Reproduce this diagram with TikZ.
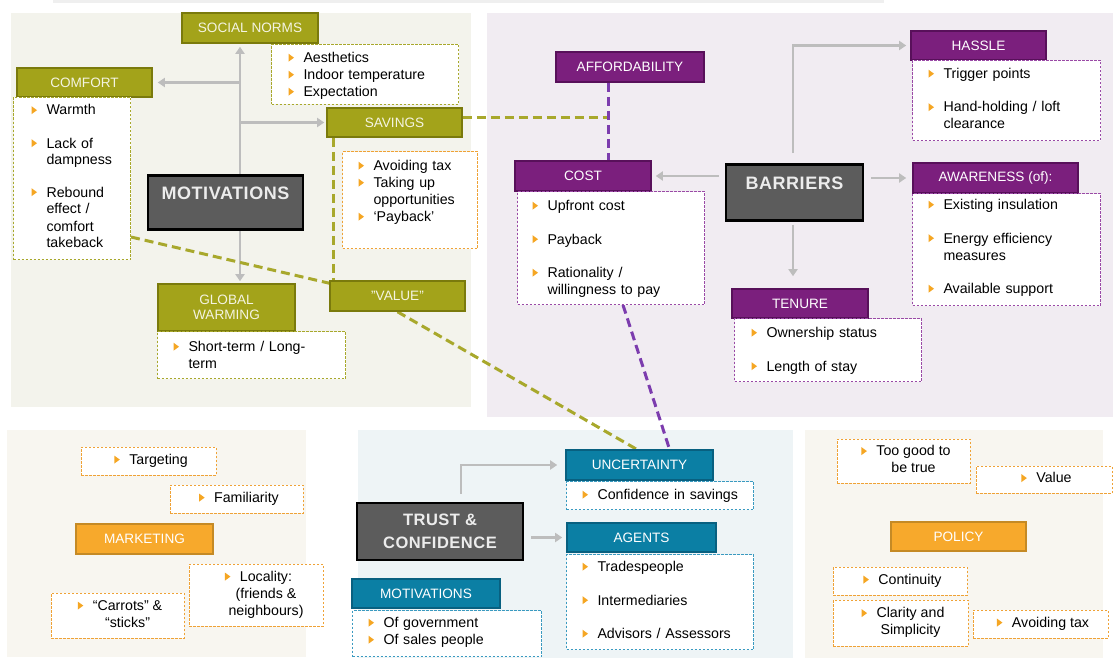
\documentclass[tikz,border=0pt]{standalone}
\usepackage{fontspec}
\setmainfont{Liberation Sans}
\newfontfamily\dgDarkFam[LetterSpace=3]{Liberation Sans}
\usetikzlibrary{arrows.meta,calc}
\setlength{\parindent}{0pt}
\definecolor{olv}{HTML}{A3A31A}
\definecolor{olvd}{HTML}{7A7A0C}
\definecolor{olvt}{HTML}{F4F4E2}
\definecolor{olvl}{HTML}{A8A82C}
\definecolor{prp}{HTML}{7B1F7D}
\definecolor{prpd}{HTML}{58105A}
\definecolor{prpl}{HTML}{9A4AA6}
\definecolor{prpc}{HTML}{7C3CAE}
\definecolor{tel}{HTML}{0B7FA4}
\definecolor{teld}{HTML}{086080}
\definecolor{tell}{HTML}{3A9AC0}
\definecolor{orn}{HTML}{F7A92C}
\definecolor{ornd}{HTML}{C58A25}
\definecolor{ornl}{HTML}{EFA236}
\definecolor{drk}{HTML}{5C5C5C}
\definecolor{drkt}{HTML}{ECECEC}
\definecolor{gry}{HTML}{BDBDBD}
\definecolor{bulc}{HTML}{F5A623}
\definecolor{pmot}{HTML}{F3F3EC}
\definecolor{pbar}{HTML}{F1ECF2}
\definecolor{pmkt}{HTML}{F8F6F0}
\definecolor{ptru}{HTML}{EEF4F6}
\definecolor{topl}{HTML}{EFEFEF}
\newcommand\dgLF{\fontsize{14.2}{17}\selectfont}
\newcommand\dgHF{\fontsize{13.6}{15}\selectfont}
\newcommand\dgBul{\tikz[x=1pt,y=1pt,baseline=0pt]\fill[bulc](0,0.8)--(0,8.8)--(5.5,4.8)--cycle;}
\newcommand\dgLi[1]{\hangindent=15pt\hangafter=1\makebox[15pt][l]{\dgBul}#1\par}
\newcommand\dgGap{\vspace{16.5pt}}
\newcommand\dgHB{\llap{\dgBul\hspace{9.5pt}}}
\newcommand\dgC[1]{\hspace*{20pt}\begin{tabular}{@{}c@{}}#1\end{tabular}}
\pgfdeclarelayer{bg}
\pgfdeclarelayer{conn}
\pgfsetlayers{bg,conn,main}
\begin{document}
\begin{tikzpicture}[x=1pt,y=-1pt,
  hdr/.style={draw, line width=1.6pt, inner sep=0pt, align=center, font=\dgHF, minimum height=29pt},
  olh/.style={hdr, fill=olv, draw=olvd, text=olvt},
  prh/.style={hdr, fill=prp, draw=prpd, text=white},
  teh/.style={hdr, fill=tel, draw=teld, text=white},
  orh/.style={hdr, fill=orn, draw=ornd, text=white},
  lst/.style={anchor=north west, fill=white, line width=1pt, dash pattern=on 2.5pt off 1.5pt, inner ysep=0pt, align=left, font=\dgLF},
  obox/.style={draw=ornl, fill=white, line width=1pt, dash pattern=on 2.5pt off 1.5pt, inner sep=0pt, font=\dgLF},
  dark/.style={draw=black, fill=drk, line width=2.5pt, text=drkt, inner sep=0pt, font=\dgDarkFam\bfseries\fontsize{18}{22}\selectfont},
  garrow/.style={draw=gry, line width=2.6pt, -{Triangle[length=7pt,width=9pt]}},
  odash/.style={draw=olvl, line width=3pt, dash pattern=on 9pt off 5pt},
  pdash/.style={draw=prpc, line width=3pt, dash pattern=on 9pt off 5pt}]
\useasboundingbox (0,0) rectangle (1113,658);
\begin{pgfonlayer}{bg}
\fill[white] (0,0) rectangle (1113,658);
\draw[topl, line width=3pt] (53,2) -- (884,2);
\fill[pmot] (11,13) rectangle (471,407);
\fill[pbar] (487,13) rectangle (1113,417);
\fill[pmkt] (7,430) rectangle (306,657);
\fill[ptru] (358,430) rectangle (793,658);
\fill[pmkt] (805,430) rectangle (1103,658);
\end{pgfonlayer}

% ---------- MOTIVATIONS ----------
\node[dark, anchor=north, minimum width=155pt, text height=24.5pt, text depth=29.5pt] (motiv) at (225.5,174) {MOTIVATIONS};
\node[olh, minimum width=136pt, minimum height=30pt] (socnorms) at (250,28) {SOCIAL NORMS};
\node[olh, minimum width=135pt] (comfort) at (84.5,82.5) {COMFORT};
\node[olh, minimum width=135pt] (savings) at (394.5,122.5) {SAVINGS};
\node[olh, minimum width=137pt, minimum height=47pt] (gw) at (226.5,307.5) {GLOBAL\\WARMING};
\node[olh, minimum width=135pt, minimum height=30pt] (value) at (397.5,296) {"VALUE"};
\node[lst, draw=olvl, inner xsep=17pt, text width=153pt, text height=18pt, text depth=42pt] (snlist) at (271,44)
  {\dgLi{Aesthetics}\dgLi{\mbox{Indoor temperature}}\dgLi{Expectation}};
\node[lst, draw=olvl, inner xsep=18pt, text width=81pt, text height=17.5pt, text depth=144.5pt] (comflist) at (13,97)
  {\dgLi{Warmth}\vspace{16pt}\dgLi{\mbox{Lack of}\newline dampness}\vspace{15pt}\dgLi{Rebound\newline \mbox{effect /}\newline comfort\newline takeback}};
\node[lst, draw=ornl, inner xsep=16pt, text width=103pt, text height=19pt, text depth=78pt] (savlist) at (342,151)
  {\dgLi{\mbox{Avoiding tax}}\dgLi{\mbox{Taking up}\newline opportunities}\dgLi{`Payback'}};
\node[lst, draw=olvl, inner xsep=16pt, text width=156pt, text height=20pt, text depth=27pt] (gwlist) at (157,331)
  {\dgLi{\mbox{Short-term / Long-}\newline term}};

% ---------- BARRIERS ----------
\node[dark, anchor=north, minimum width=137pt, text height=25.7pt, text depth=30.3pt] (barriers) at (794.5,163) {BARRIERS};
\node[prh, minimum width=148pt, minimum height=30pt] (afford) at (630,67) {AFFORDABILITY};
\node[prh, minimum width=136pt, minimum height=30pt] (cost) at (583,176) {COST};
\node[prh, minimum width=135pt] (hassle) at (978.5,45.5) {HASSLE};
\node[prh, minimum width=165pt, minimum height=30pt] (aware) at (995.5,178) {AWARENESS (of):};
\node[prh, minimum width=136pt] (tenure) at (800,303.5) {TENURE};
\node[lst, draw=prpl, inner xsep=15pt, text width=157pt, text height=19pt, text depth=94pt] (costlist) at (517,191)
  {\dgLi{\mbox{Upfront cost}}\dgGap\dgLi{Payback}\dgGap\dgLi{\mbox{Rationality /}\newline \mbox{willingness to pay}}};
\node[lst, draw=prpl, inner xsep=16pt, text width=156pt, text height=18pt, text depth=62pt] (hasslelist) at (912,60)
  {\dgLi{\mbox{Trigger points}}\dgGap\dgLi{\mbox{Hand-holding / loft}\newline clearance}};
\node[lst, draw=prpl, inner xsep=16pt, text width=156pt, text height=16pt, text depth=96pt] (awarelist) at (912,193)
  {\dgLi{\mbox{Existing insulation}}\dgGap\dgLi{\mbox{Energy efficiency}\newline measures}\dgGap\dgLi{\mbox{Available support}}};
\node[lst, draw=prpl, inner xsep=17pt, text width=153pt, text height=19pt, text depth=44pt] (tenurelist) at (734,318)
  {\dgLi{\mbox{Ownership status}}\dgGap\dgLi{\mbox{Length of stay}}};

% ---------- TRUST ----------
\node[dark, minimum width=166pt, minimum height=57pt, align=center, font=\dgDarkFam\bfseries\fontsize{16.5}{23}\selectfont] (trust) at (440,531.5) {TRUST \&\\CONFIDENCE};
\node[teh, minimum width=147pt, minimum height=30pt] (uncert) at (639.5,465) {UNCERTAINTY};
\node[teh, minimum width=149pt] (agents) at (641.5,537.5) {AGENTS};
\node[teh, minimum width=148pt] (motivb) at (426,593.5) {MOTIVATIONS};
\node[lst, draw=tell, inner xsep=16pt, text width=155pt, text height=18pt, text depth=10pt] (unclist) at (566,481)
  {\dgLi{\mbox{Confidence in savings}}};
\node[lst, draw=tell, inner xsep=16pt, text width=155pt, text height=17pt, text depth=78pt] (agentslist) at (566,554)
  {\dgLi{Tradespeople}\dgGap\dgLi{Intermediaries}\dgGap\dgLi{\mbox{Advisors / Assessors}}};
\node[lst, draw=tell, inner xsep=16pt, text width=157pt, text height=17pt, text depth=29pt] (motivblist) at (352,610)
  {\dgLi{\mbox{Of government}}\dgLi{\mbox{Of sales people}}};

% ---------- MARKETING ----------
\node[orh, minimum width=137pt, minimum height=30pt] (marketing) at (144.5,539) {MARKETING};
\node[obox, minimum width=135pt, minimum height=28pt] (targeting) at (148.5,461) {\dgC{\dgHB Targeting}};
\node[obox, minimum width=133pt, minimum height=28pt] (familiarity) at (236.5,499) {\dgC{\dgHB Familiarity}};
\node[obox, minimum width=133pt, minimum height=45pt] (carrots) at (117.5,615.5) {\dgC{\dgHB ``Carrots'' \&\\``sticks''}};
\node[obox, minimum width=134pt, minimum height=62pt] (locality) at (256,595) {\dgC{\dgHB Locality:\\(friends \&\\neighbours)}};

% ---------- POLICY ----------
\node[orh, minimum width=135pt] (policy) at (958.5,536.5) {POLICY};
\node[obox, minimum width=133pt, minimum height=44pt] (toogood) at (903.5,461) {\dgC{\dgHB Too good to\\be true}};
\node[obox, minimum width=136pt, minimum height=27pt] (valuep) at (1044,479.5) {\dgC{\dgHB Value}};
\node[obox, minimum width=134pt, minimum height=28pt] (continuity) at (900,581) {\dgC{\dgHB Continuity}};
\node[obox, minimum width=135pt, minimum height=46pt] (clarity) at (900.5,623) {\dgC{\dgHB Clarity and\\Simplicity}};
\node[obox, minimum width=135pt, minimum height=28pt] (avoidtax) at (1040.5,624) {\dgC{\dgHB Avoiding tax}};

% ---------- CONNECTORS ----------
\begin{pgfonlayer}{conn}
\coordinate (mx) at (240,0);
\draw[garrow, shorten >=3pt] (motiv.north -| mx) -- (socnorms.south -| mx);
\draw[garrow, shorten >=5pt] (mx |- comfort.east) -- (comfort.east);
\draw[garrow, shorten >=2pt] (mx |- savings.west) -- (savings.west);
\draw[garrow, shorten >=2pt] (motiv.south -| mx) -- (gw.north -| mx);
\coordinate (bx) at (793,0);
\draw[garrow, shorten <=6pt, shorten >=4pt] (barriers.west |- cost.east) -- (cost.east);
\draw[garrow, shorten <=10pt, shorten >=4pt] (barriers.north -| bx) |- (hassle.west);
\draw[garrow, shorten <=7pt, shorten >=6pt] (barriers.east |- aware.west) -- (aware.west);
\draw[garrow, shorten <=3pt, shorten >=12pt] (barriers.south -| bx) -- (tenure.north -| bx);
\coordinate (tx) at (461,0);
\draw[garrow, shorten <=8pt, shorten >=8pt] (trust.north -| tx) |- (uncert.west);
\draw[garrow, shorten <=7pt, shorten >=4pt] (trust.east |- agents.west) -- (agents.west);
\coordinate (jn) at (608,118);
\draw[odash] (savings.east |- jn) -- (jn);
\draw[pdash] (afford.south -| jn) -- (cost.north -| jn);
\coordinate (vx) at (333,0);
\draw[odash] (savings.south -| vx) -- (value.north -| vx);
\draw[odash] ($(comflist.south east)+(0,-23)$) -- ($(value.north west)+(0,3)$);
\draw[odash] (value.south) -- ($(uncert.north)+(-3,0)$);
\draw[pdash] ($(costlist.south)+(12,0)$) -- ($(uncert.north)+(30,0)$);
\end{pgfonlayer}
\end{tikzpicture}
\end{document}
